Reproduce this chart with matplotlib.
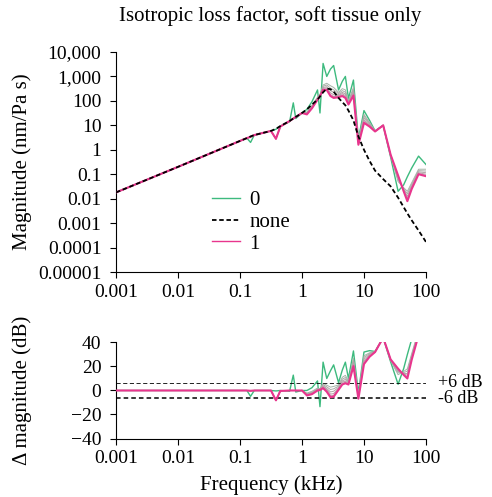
import numpy as np
import matplotlib
matplotlib.use("Agg")
import matplotlib.pyplot as plt

plt.rcParams['font.family'] = ['Liberation Serif', 'DejaVu Serif']

# Frequency grid (kHz)
freq = [0.001, 0.01, 0.1, 0.129, 0.148, 0.17, 0.316, 0.38, 0.447, 0.631, 0.724,
        0.794, 1.0, 1.2, 1.45, 1.78, 1.95, 2.19, 2.51, 2.88, 3.24, 3.89, 4.47,
        5.01, 5.62, 6.76, 8.13, 10.0, 12.3, 15.1, 20.4, 26.9, 35.5, 43.7, 50.1,
        58.9, 75.9, 100.0]

# Magnitude (nm/Pa s)
mag_none = [0.018, 0.20, 2.3, 3.0, 3.5, 4.0, 5.9, 7.2, 9.3, 15, 19, 22, 32, 45,
            71, 112, 151, 224, 316, 302, 240, 132, 89, 66, 40, 16, 3.5, 1.0,
            0.35, 0.14, 0.063, 0.032, 0.011, 0.0045, 0.0025, 0.0013, 0.0005,
            0.00017]
mag_0 = [0.018, 0.20, 2.3, 3.0, 2.0, 4.0, 5.9, 6.9, 9.3, 14, 83, 19, 32, 45, 93,
         280, 32, 3400, 1000, 2000, 2800, 280, 630, 1000, 126, 710, 2.8, 40, 16,
         5.9, 10, 0.5, 0.02, 0.037, 0.079, 0.18, 0.55, 0.25]
mag_1 = [0.018, 0.20, 2.3, 3.0, 3.4, 4.0, 5.9, 2.8, 8.9, 15, 19, 22, 32, 28, 50,
         112, 158, 280, 280, 158, 132, 141, 158, 132, 71, 166, 1.6, 12.6, 8.9,
         5.6, 10, 0.63, 0.089, 0.02, 0.0079, 0.025, 0.1, 0.083]
# intermediate loss factors (from nearest "0" to nearest "1")
low_part = [0.018, 0.20, 2.3, 3.0, 3.4, 4.0, 5.9, 2.8, 8.9, 15, 19, 22, 32]
mag_mid = [
    low_part + [35, 66, 141, 178, 447, 525, 417, 355, 224, 316, 282, 100, 355,
                2.5, 28, 13, 5.9, 10, 0.56, 0.05, 0.028, 0.02, 0.045, 0.16, 0.16],
    low_part + [33, 60, 132, 174, 398, 447, 331, 282, 200, 263, 229, 91, 295,
                2.2, 24, 12, 5.8, 10, 0.59, 0.06, 0.025, 0.016, 0.038, 0.14, 0.135],
    low_part + [32, 56, 126, 170, 355, 380, 263, 224, 178, 224, 191, 83, 251,
                2.0, 20, 11, 5.8, 10, 0.6, 0.069, 0.023, 0.0126, 0.033, 0.126, 0.115],
    low_part + [30, 54, 120, 166, 331, 339, 214, 178, 162, 200, 162, 78, 214,
                1.8, 16.6, 10, 5.6, 10, 0.62, 0.078, 0.022, 0.0107, 0.03, 0.115, 0.1],
    low_part + [29, 51, 115, 162, 302, 309, 182, 151, 151, 178, 145, 74, 186,
                1.7, 14.5, 9.3, 5.6, 10, 0.63, 0.083, 0.021, 0.0093, 0.027, 0.107, 0.091],
]

x_ticks = [0.001, 0.01, 0.1, 1, 10, 100]
x_labels = ['0.001', '0.01', '0.1', '1', '10', '100']
y_ticks = [1e4, 1e3, 1e2, 1e1, 1, 0.1, 0.01, 0.001, 0.0001, 0.00001]
y_labels = ['10,000', '1,000', '100', '10', '1', '0.1', '0.01', '0.001',
            '0.0001', '0.00001']
db_ticks = [-40, -20, 0, 20, 40]

green = '#3dba7e'
pink = '#e8358d'
mid_colors = ['#a6b4a8', '#aaaaa6', '#b0a4a6', '#b89ea6', '#c395aa']


def style_axis(ax):
    ax.spines['top'].set_visible(False)
    ax.spines['right'].set_visible(False)
    ax.set_xscale('log')
    ax.set_xlim(0.001, 100)
    ax.set_xticks(x_ticks)
    ax.set_xticklabels(x_labels)
    ax.minorticks_off()
    ax.tick_params(direction='out', length=4.5, width=0.8, labelsize=14, pad=4)
    ax.tick_params(axis='y', pad=6)


def main():
    fig = plt.figure(figsize=(4.92, 4.97), dpi=100)
    ax = fig.add_axes([0.2358, 0.4527, 0.630, 0.4427])
    ax2 = fig.add_axes([0.2358, 0.1177, 0.630, 0.1932])

    f = np.array(freq)
    none = np.array(mag_none)

    # Top panel: magnitude
    ax.plot(f, mag_0, color=green, lw=1.0)
    for m, c in zip(mag_mid, mid_colors):
        ax.plot(f, m, color=c, lw=0.7)
    ax.plot(f, mag_1, color=pink, lw=1.5, zorder=3)
    ax.plot(f, none, color='black', lw=1.3, ls=(0, (2.5, 1.5)), zorder=4)
    style_axis(ax)
    ax.set_yscale('log')
    ax.set_ylim(1e-5, 1e4)
    ax.set_yticks(y_ticks)
    ax.set_yticklabels(y_labels)
    ax.minorticks_off()
    ax.set_ylabel('Magnitude (nm/Pa s)', fontsize=15)
    fig.text(0.549, 0.968, 'Isotropic loss factor, soft tissue only',
             fontsize=15, ha='center', va='center')

    h0, = ax.plot([], [], color=green, lw=1.0)
    hn, = ax.plot([], [], color='black', lw=1.3, ls=(0, (2.5, 1.5)))
    h1, = ax.plot([], [], color=pink, lw=1.0)
    ax.legend([h0, hn, h1], ['0', 'none', '1'], loc='upper left',
              bbox_to_anchor=(0.31, 0.37), frameon=False, fontsize=15,
              handlelength=1.35, handletextpad=0.45, labelspacing=0.1,
              borderpad=0, borderaxespad=0)

    # Bottom panel: change in magnitude relative to "none"
    ax2.plot(f, 20 * np.log10(np.array(mag_0) / none), color=green, lw=1.0)
    for m, c in zip(mag_mid, mid_colors):
        ax2.plot(f, 20 * np.log10(np.array(m) / none), color=c, lw=0.7)
    ax2.plot(f, 20 * np.log10(np.array(mag_1) / none), color=pink, lw=1.5, zorder=3)
    ax2.axhline(6, color='black', lw=0.6, ls=(0, (5, 3)))
    ax2.axhline(-6, color='black', lw=1.1, ls=(0, (3, 2)))
    style_axis(ax2)
    ax2.set_ylim(-40, 40)
    ax2.set_yticks(db_ticks)
    ax2.set_ylabel('Δ magnitude (dB)', fontsize=15)
    ax2.set_xlabel('Frequency (kHz)', fontsize=15, labelpad=6)
    tr = ax2.get_yaxis_transform()
    ax2.text(1.04, 7, '+6 dB', transform=tr, fontsize=13, va='center', ha='left')
    ax2.text(1.04, -7, '-6 dB', transform=tr, fontsize=13, va='center', ha='left')

    # align y labels
    ax.yaxis.set_label_coords(-0.27, 0.5)
    ax2.yaxis.set_label_coords(-0.27, 0.5)

    fig.savefig('out.png', dpi=100)


if __name__ == "__main__":
    main()
